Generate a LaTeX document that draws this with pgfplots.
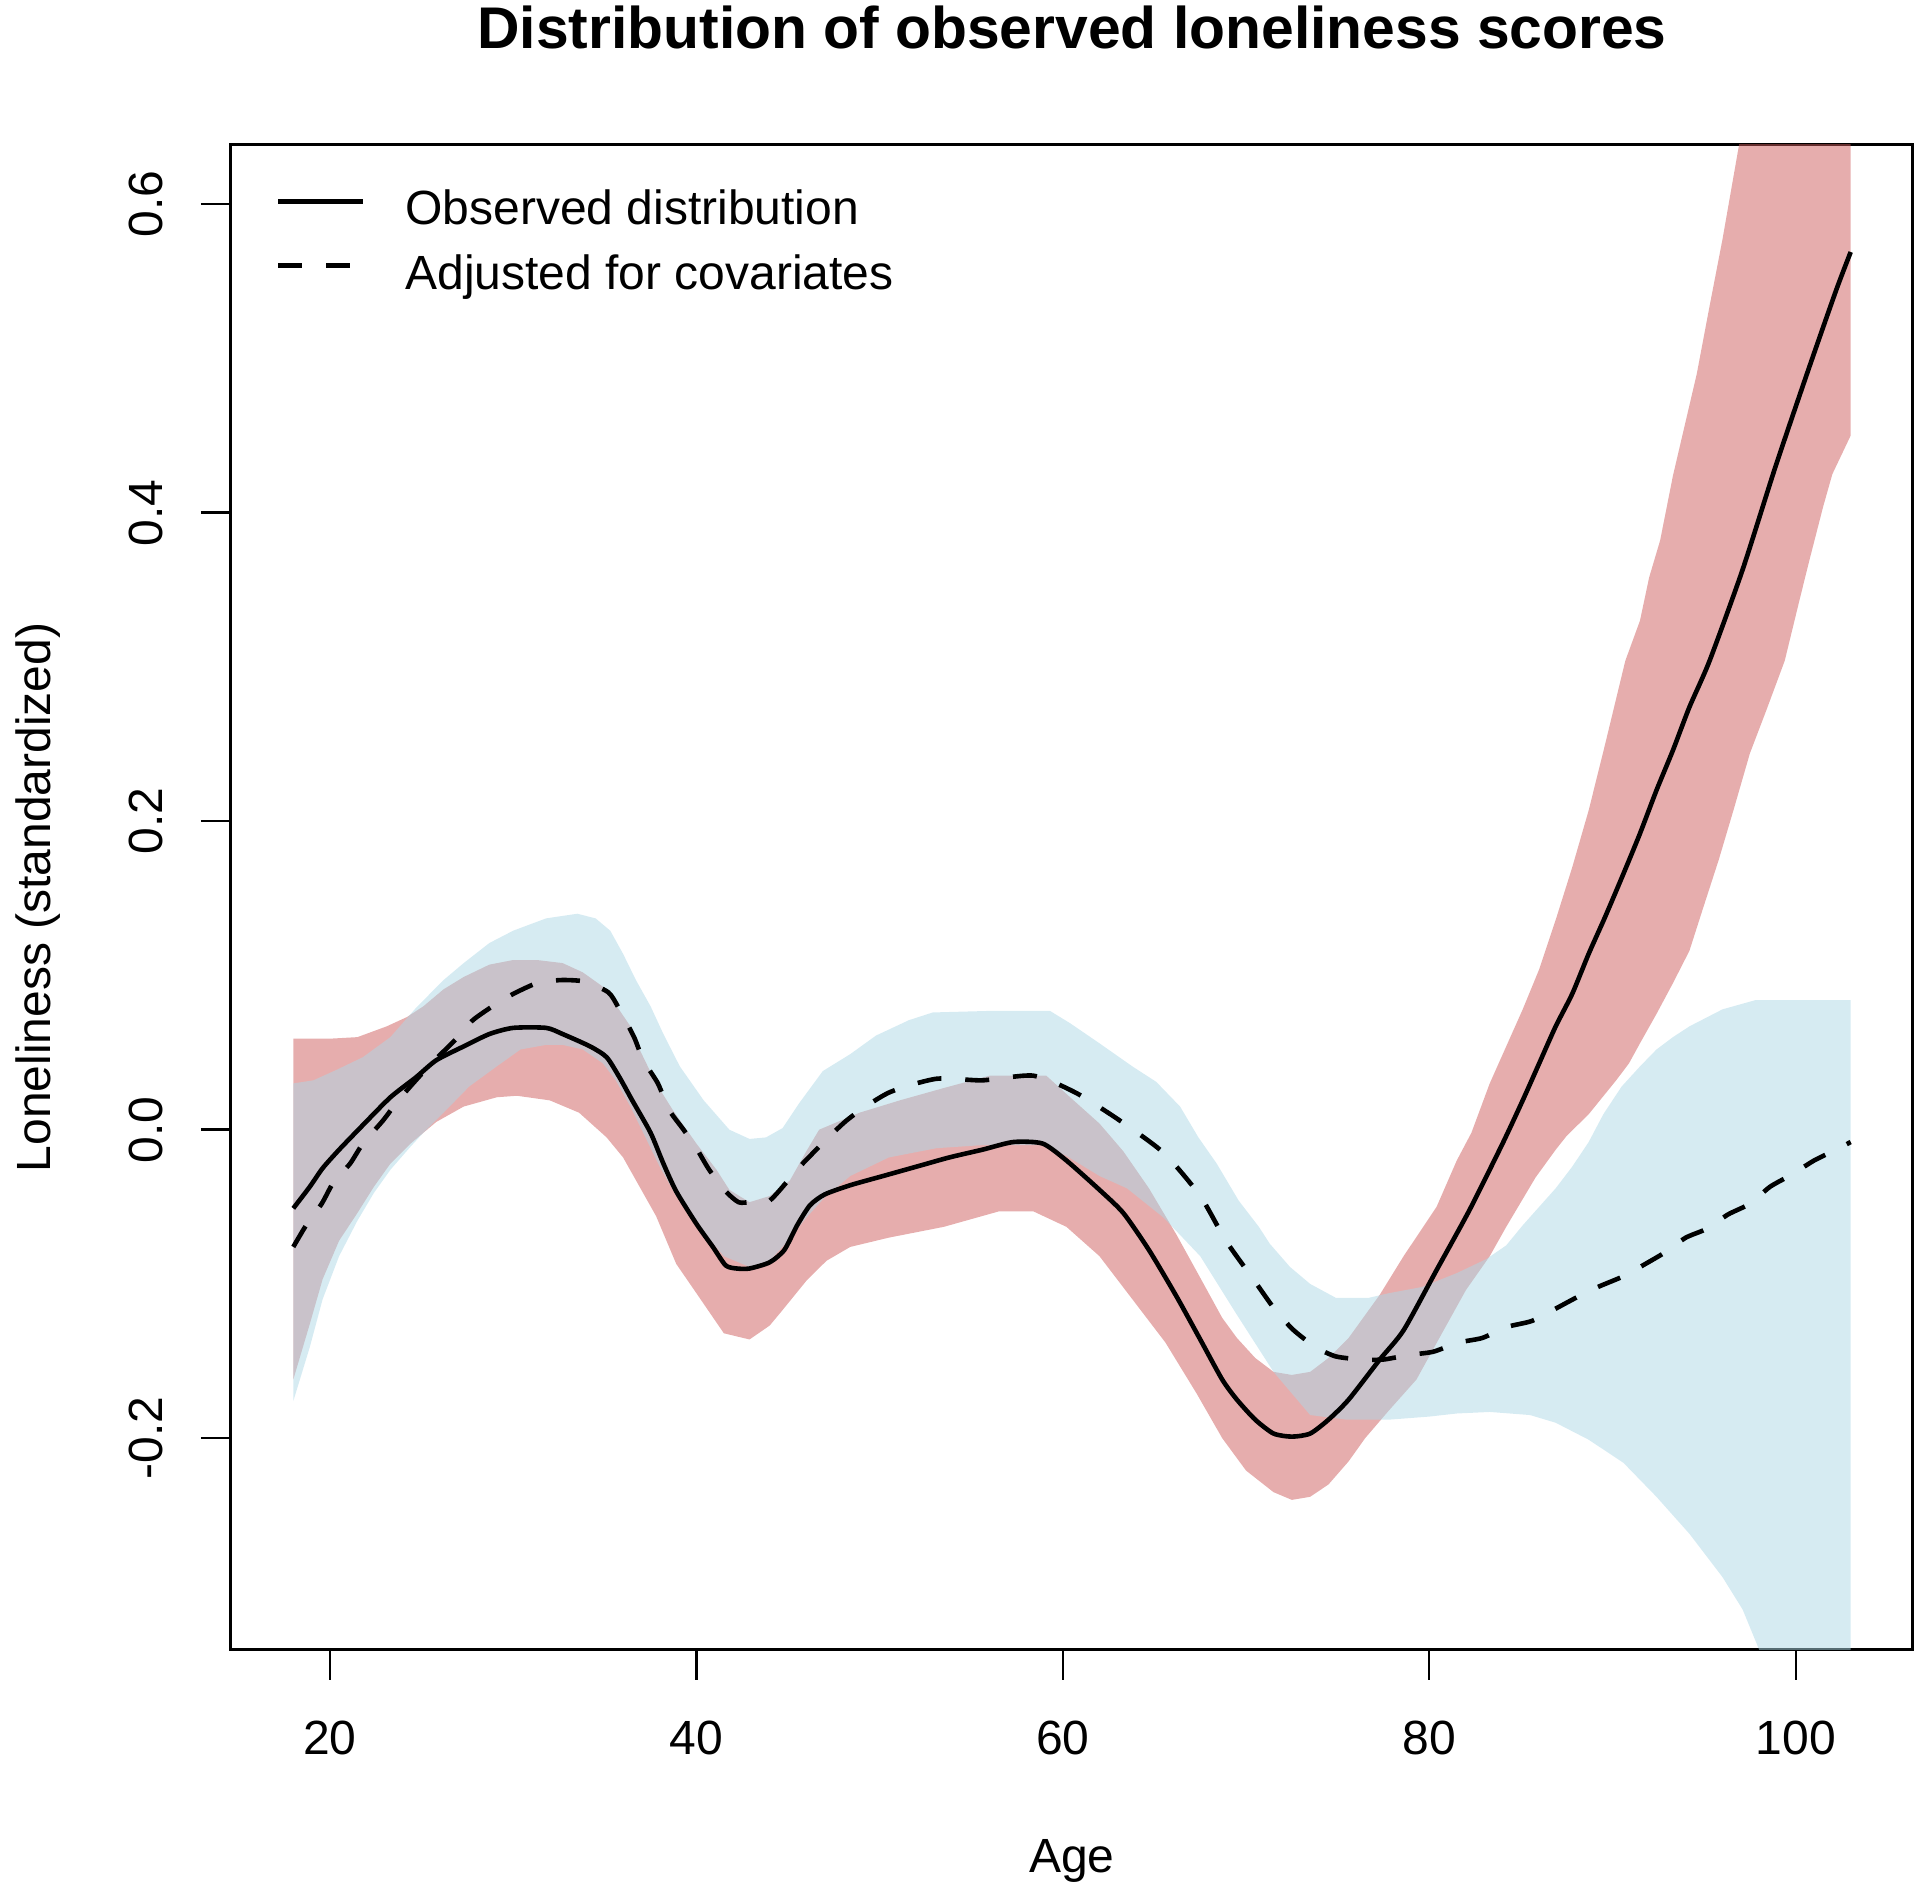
\documentclass[border=0pt]{standalone}
\usepackage{pgfplots}
\pgfplotsset{compat=1.18}
\usepackage{fontspec}
\setmainfont{Liberation Sans}
\definecolor{redband}{RGB}{205,92,92}
\definecolor{blueband}{RGB}{173,216,230}
\begin{document}
\begin{tikzpicture}
\path[use as bounding box] (0,0) rectangle (480pt,472.5pt);
\begin{axis}[
  scale only axis, width=420.5pt, height=376.25pt,
  at={(57.75pt,60pt)}, anchor=south west,
  xmin=14.6, xmax=106.4, ymin=-0.3373, ymax=0.6384,
  xtick={20,40,60,80,100}, xticklabels={20,40,60,80,100},
  ytick={-0.2,0,0.2,0.4,0.6}, yticklabels={-0.2,0.0,0.2,0.4,0.6},
  /pgf/number format/assume math mode=true,
  tick align=outside, major tick length=7.5pt,
  xtick pos=bottom, ytick pos=left,
  tick style={line width=0.6pt, black},
  axis line style={line width=0.75pt},
  font=\fontsize{12}{14.4}\selectfont,
  xticklabel style={anchor=base, yshift=-18.75pt},
  yticklabel style={xshift=-9.5pt, rotate=90, anchor=base},
  every axis title/.style={at={(axis description cs:0.5,1)}, anchor=base, yshift=24pt, font=\bfseries\fontsize{14.7}{17}\selectfont},
  every axis x label/.style={at={(axis description cs:0.5,0)}, anchor=base, yshift=-55.75pt},
  every axis y label/.style={at={(axis description cs:0,0.5)}, xshift=-45pt, rotate=90, anchor=base},
  title={Distribution of observed loneliness scores},
  xlabel={Age}, ylabel={Loneliness (standardized)},
  legend style={at={(axis description cs:0,1)}, anchor=north west, xshift=11pt, yshift=-10.75pt,
    draw=none, fill=none, inner sep=0pt, row sep=4.35pt,
    nodes={inner sep=0pt, text height=9pt, text depth=2.75pt},
    /tikz/every odd column/.append style={column sep=10pt}},
  legend cell align=left,
  legend image code/.code={\draw[#1] (0pt,2.75pt) -- (21.25pt,2.75pt);},
]
% red band: observed distribution CI
\addplot[draw=none, fill=redband, fill opacity=0.5, forget plot] coordinates {
(18,0.059) (20,0.059) (21.5,0.060) (23.1,0.067) (24.2,0.073) (25.1,0.080) (26.2,0.091) (27.3,0.099) (28.7,0.107) (30,0.110) (31.3,0.110) (32.7,0.108) (33.8,0.102) (35.1,0.091) (35.6,0.081) (36.4,0.067) (36.9,0.052) (37.8,0.030) (38.7,0.013) (40,-0.009) (41.1,-0.026) (41.8,-0.039) (42.9,-0.047) (44,-0.043) (45.1,-0.033) (46,-0.014) (46.7,0.000) (48.9,0.011) (51.1,0.019) (53.5,0.027) (56,0.035) (59.1,0.035) (60.4,0.021) (62,0.004) (63.3,-0.014) (64.7,-0.038) (66.2,-0.068) (67.5,-0.096) (68.7,-0.122) (69.5,-0.135) (70.5,-0.148) (71.5,-0.157) (72.5,-0.159) (73.5,-0.157) (74.5,-0.148) (75.6,-0.135) (77.3,-0.107) (78.6,-0.082) (80.4,-0.050) (81.5,-0.020) (82.3,-0.002) (83.3,0.030) (84.2,0.054) (85.1,0.078) (86,0.104) (86.9,0.136) (87.8,0.170) (88.7,0.207) (89.6,0.250) (90.7,0.304) (91.5,0.330) (92,0.358) (92.6,0.382) (93.3,0.424) (94.6,0.490) (95.3,0.534) (96,0.577) (96.9,0.638) (98,0.70) (100,0.82) (101.5,0.91) (103,1.00)
(103,0.450) (102,0.425) (101.5,0.404) (100.7,0.367) (100.2,0.343) (99.4,0.304) (98.4,0.272) (97.5,0.244) (96.6,0.207) (95.8,0.175) (94.9,0.142) (94.2,0.116) (93.3,0.095) (92.4,0.075) (91.5,0.056) (90.9,0.043) (90.2,0.032) (88.7,0.010) (87.5,-0.004) (86.9,-0.013) (85.8,-0.031) (84.2,-0.063) (83.3,-0.082) (82,-0.104) (80.6,-0.134) (79.3,-0.162) (77.8,-0.182) (76.5,-0.200) (75.6,-0.215) (74.5,-0.230) (73.5,-0.238) (72.5,-0.240) (71.5,-0.235) (70,-0.221) (68.7,-0.200) (67.3,-0.171) (65.6,-0.138) (63.8,-0.110) (62,-0.082) (60.2,-0.063) (58.4,-0.053) (56.5,-0.053) (53.5,-0.063) (50.5,-0.070) (48.4,-0.076) (47.1,-0.085) (46,-0.098) (44.7,-0.117) (44,-0.127) (42.9,-0.136) (41.5,-0.132) (40,-0.106) (38.9,-0.087) (37.8,-0.056) (36.9,-0.037) (36,-0.018) (35.1,-0.005) (33.6,0.011) (32,0.019) (30.2,0.022) (29.1,0.021) (27.3,0.015) (25.8,0.005) (25.1,-0.002) (24.4,-0.009) (23.3,-0.022) (22.4,-0.037) (21.5,-0.054) (20.5,-0.072) (19.6,-0.097) (18.9,-0.126) (18,-0.162)
} -- cycle;
% blue band: adjusted CI
\addplot[draw=none, fill=blueband, fill opacity=0.5, forget plot] coordinates {
(18,0.030) (19.1,0.032) (20.4,0.039) (21.8,0.047) (23.3,0.060) (24.7,0.079) (26.2,0.097) (27.3,0.108) (28.7,0.121) (30,0.129) (31.8,0.137) (33.5,0.140) (34.5,0.137) (35.3,0.129) (36,0.114) (36.7,0.097) (37.5,0.080) (38.2,0.062) (39.1,0.041) (40.4,0.019) (41.8,0.000) (42.9,-0.006) (43.8,-0.005) (44.7,0.001) (45.6,0.017) (46.9,0.038) (48.4,0.049) (49.8,0.061) (51.6,0.071) (52.9,0.076) (56,0.077) (59.3,0.077) (60.4,0.069) (62,0.056) (63.8,0.041) (65.1,0.031) (66.4,0.015) (67.4,-0.005) (68.4,-0.022) (69.6,-0.046) (70.7,-0.063) (71.3,-0.074) (72.4,-0.089) (73.5,-0.100) (74.9,-0.109) (76.7,-0.109) (77.8,-0.106) (79.6,-0.102) (81.5,-0.093) (83.1,-0.084) (84.2,-0.075) (85.1,-0.062) (86,-0.050) (86.9,-0.038) (87.8,-0.024) (88.7,-0.008) (89.5,0.010) (90.5,0.028) (91.5,0.041) (92.4,0.052) (93.3,0.060) (94.2,0.067) (96,0.078) (97.8,0.084) (100.9,0.084) (103,0.084)
(103,-0.50) (101,-0.43) (99.5,-0.38) (98,-0.337) (97.1,-0.311) (96,-0.290) (94.2,-0.262) (92.4,-0.238) (90.6,-0.216) (88.7,-0.201) (86.9,-0.190) (85.5,-0.185) (83.3,-0.183) (81.5,-0.184) (80,-0.186) (77.8,-0.188) (75.5,-0.188) (73.5,-0.185) (71.5,-0.157) (69.5,-0.120) (67.5,-0.082) (65.5,-0.057) (63.5,-0.038) (62,-0.030) (60.2,-0.017) (58.9,-0.010) (55.6,-0.010) (53.1,-0.012) (50.5,-0.018) (48.4,-0.030) (47,-0.044) (46,-0.057) (45,-0.072) (44,-0.085) (42.9,-0.089) (41.5,-0.082) (40,-0.061) (38.9,-0.043) (38,-0.024) (37.1,-0.002) (36.4,0.015) (35.6,0.032) (34.9,0.043) (33.8,0.052) (32.7,0.055) (31.8,0.055) (30.4,0.052) (29.1,0.041) (27.6,0.028) (26.2,0.011) (25.1,-0.002) (24.4,-0.011) (23.3,-0.026) (22.4,-0.041) (21.5,-0.059) (20.5,-0.082) (19.6,-0.110) (18.9,-0.141) (18,-0.176)
} -- cycle;
% observed
\addplot[black, line width=1.15pt, line join=round, smooth, tension=0.4] coordinates {
(18,-0.051) (18.9,-0.037) (19.6,-0.025) (20.5,-0.013) (21.8,0.003) (23.3,0.021) (24.7,0.034) (25.8,0.045) (27.3,0.054) (28.7,0.062) (30,0.066) (31.8,0.066) (32.7,0.062) (34.2,0.054) (35.1,0.047) (35.8,0.034) (36.5,0.019) (37.5,-0.002) (38.2,-0.022) (38.9,-0.040) (40,-0.061) (40.9,-0.076) (41.6,-0.088) (42.2,-0.090) (42.9,-0.090) (44,-0.086) (44.8,-0.078) (45.5,-0.062) (46.2,-0.049) (47,-0.042) (48.4,-0.036) (50.2,-0.030) (52,-0.024) (53.8,-0.018) (55.6,-0.013) (57.3,-0.008) (58.9,-0.009) (60.2,-0.020) (62,-0.039) (63.3,-0.054) (64.7,-0.078) (66.2,-0.108) (67.5,-0.136) (68.7,-0.162) (69.5,-0.175) (70.5,-0.188) (71.5,-0.197) (72.5,-0.199) (73.5,-0.197) (74.5,-0.188) (75.6,-0.175) (77.3,-0.149) (78.6,-0.130) (80.4,-0.091) (82.2,-0.052) (84,-0.009) (85.1,0.019) (86,0.043) (86.9,0.067) (87.8,0.088) (88.7,0.114) (89.6,0.138) (90.6,0.166) (91.5,0.192) (92.4,0.220) (93.3,0.246) (94.2,0.274) (95.3,0.304) (97.1,0.363) (98.9,0.430) (100.7,0.493) (102.2,0.544) (103,0.569)
};
\addlegendentry{Observed distribution}
% adjusted
\addplot[black, line width=1.15pt, dash pattern=on 6pt off 6pt, line join=round, smooth, tension=0.4] coordinates {
(18,-0.076) (18.7,-0.062) (19.55,-0.048) (20.2,-0.034) (21.1,-0.022) (21.8,-0.009) (22.9,0.006) (23.8,0.020) (25.3,0.040) (26.9,0.059) (27.8,0.071) (29,0.081) (30,0.088) (31.3,0.095) (32.6,0.097) (33.9,0.096) (35.2,0.089) (35.8,0.078) (36.6,0.060) (37.1,0.045) (37.9,0.030) (38.5,0.013) (39.3,0.000) (40,-0.012) (40.7,-0.026) (41.6,-0.040) (42.3,-0.047) (42.9,-0.047) (44,-0.046) (45.8,-0.022) (48.2,0.006) (50.5,0.024) (53.1,0.033) (55.6,0.032) (58.4,0.035) (60.7,0.024) (63.1,0.006) (65.5,-0.015) (67.5,-0.043) (68.9,-0.072) (70.4,-0.097) (71.6,-0.117) (72.6,-0.130) (73.8,-0.141) (74.9,-0.147) (76.3,-0.149) (77.5,-0.149) (78.9,-0.146) (80.2,-0.144) (81.6,-0.138) (82.9,-0.135) (84.2,-0.128) (85.6,-0.124) (86.9,-0.116) (88,-0.109) (89.2,-0.102) (90.6,-0.095) (91.8,-0.087) (92.8,-0.080) (94,-0.070) (95.2,-0.064) (96.3,-0.055) (97.5,-0.048) (98.6,-0.037) (99.8,-0.029) (101,-0.020) (102.2,-0.013) (103,-0.008)
};
\addlegendentry{Adjusted for covariates}
\end{axis}
\end{tikzpicture}
\end{document}
